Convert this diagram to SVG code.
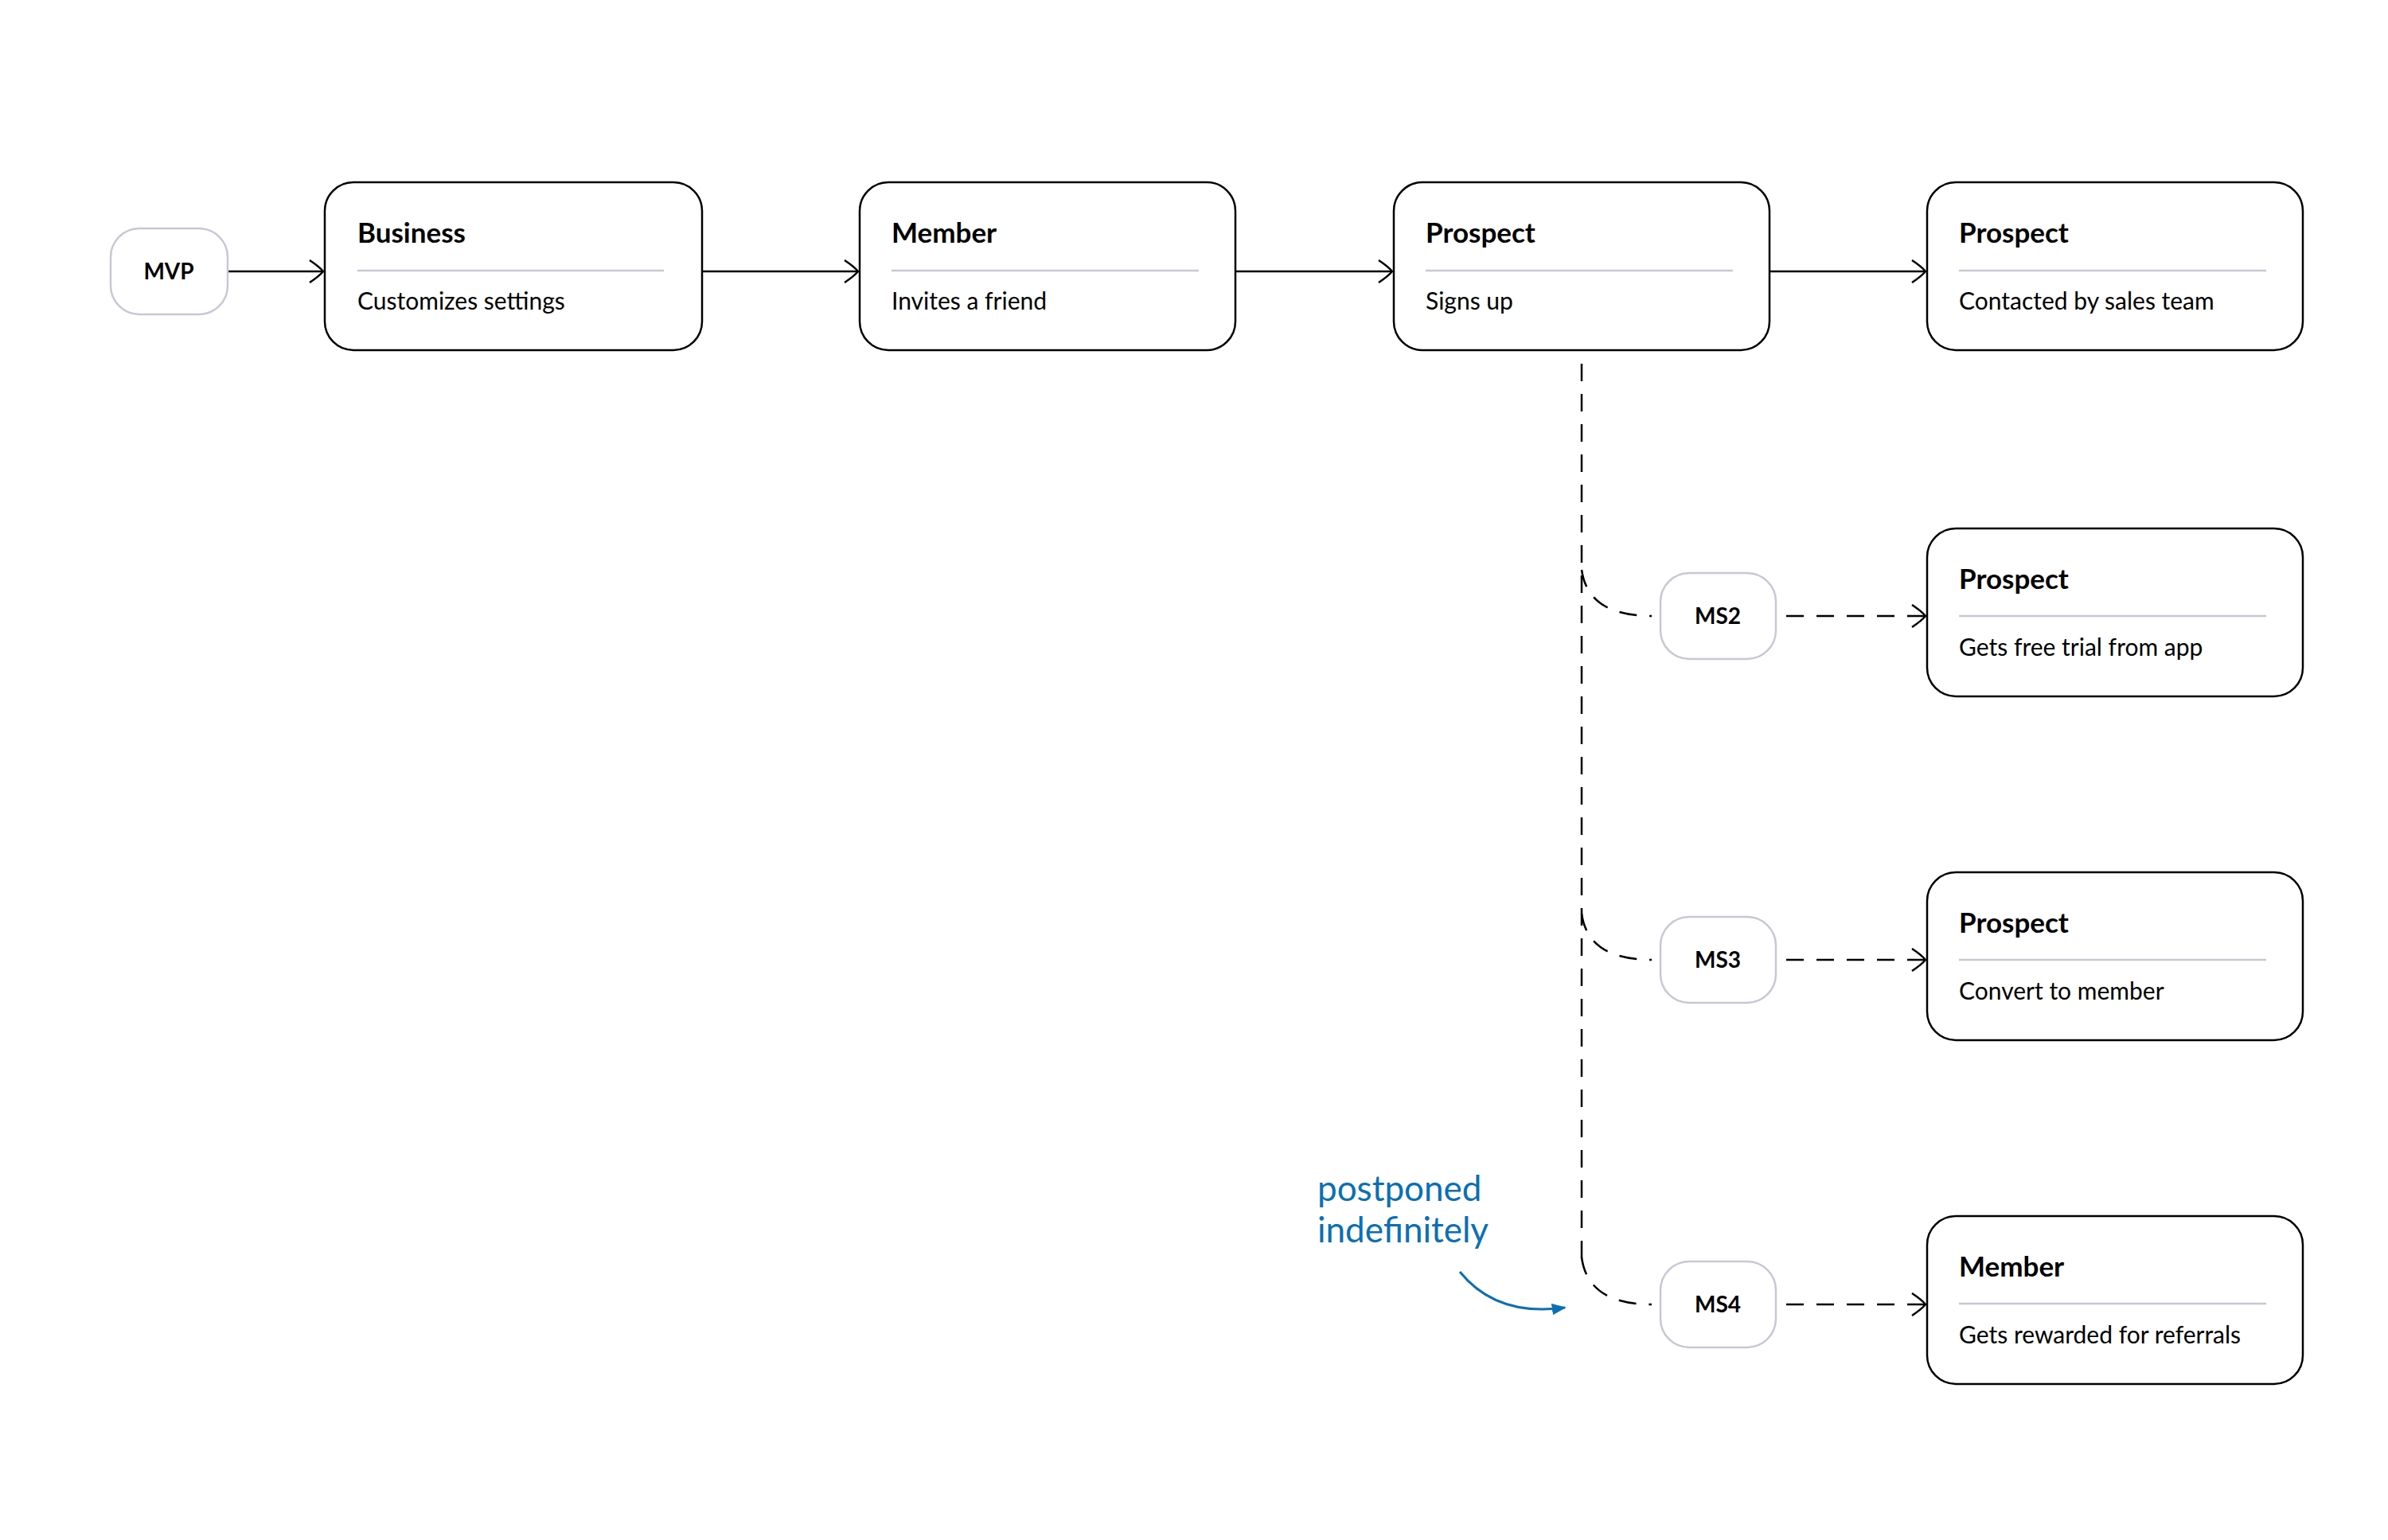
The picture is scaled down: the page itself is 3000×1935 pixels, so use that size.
<svg xmlns="http://www.w3.org/2000/svg" width="3000" height="1935" viewBox="0 0 3000 1935">
<style>
.card{fill:#fff;stroke:#000;stroke-width:2.5}
.pill{fill:#fff;stroke:#c5c9d3;stroke-width:2.5}
.sep{stroke:#c5c9d3;stroke-width:2.5}
.t{font-family:Lato,"Liberation Sans",sans-serif;font-weight:bold;font-size:35px;fill:#000}
.s{font-family:Lato,"Liberation Sans",sans-serif;font-size:30px;fill:#000}
.m{font-family:Lato,"Liberation Sans",sans-serif;font-weight:bold;font-size:28px;fill:#000;text-anchor:middle}
.c{fill:none;stroke:#000;stroke-width:2.5}
.d{fill:none;stroke:#000;stroke-width:2.5;stroke-dasharray:22 16}
.a{font-family:Lato,"Liberation Sans",sans-serif;font-size:44px;fill:#0a6fb3}
</style>
<defs>
<marker id="ah" viewBox="0 0 20 30" refX="19" refY="15" markerWidth="20" markerHeight="30" markerUnits="userSpaceOnUse" orient="auto"><path d="M2 1 Q14 9 19 15 Q14 21 2 29" fill="none" stroke="#000" stroke-width="2.5"/></marker>
<marker id="bh" viewBox="0 0 20 20" refX="18" refY="10" markerWidth="18" markerHeight="18" markerUnits="userSpaceOnUse" orient="auto"><path d="M0 2 L20 10 L0 18 Z" fill="#0a6fb3"/></marker>
</defs>
<rect width="3000" height="1935" fill="#fff"/>
<g id="connectors">
<path class="c" d="M286 341 H406" marker-end="url(#ah)"/>
<path class="c" d="M882 341 H1078" marker-end="url(#ah)"/>
<path class="c" d="M1552 341 H1749" marker-end="url(#ah)"/>
<path class="c" d="M2223 341 H2419" marker-end="url(#ah)"/>
<path class="d" d="M1987 457 V1587"/>
<path class="d" d="M1987 716 Q1995 774 2075 774"/>
<path class="d" d="M1987 1148 Q1995 1206 2075 1206"/>
<path class="d" d="M1987 1580 Q1995 1639 2075 1639"/>
<path class="d" d="M2244 774 H2419" marker-end="url(#ah)"/>
<path class="d" d="M2244 1206 H2419" marker-end="url(#ah)"/>
<path class="d" d="M2244 1639 H2419" marker-end="url(#ah)"/>
<path d="M1834 1598 Q1880 1655 1966 1643" fill="none" stroke="#0a6fb3" stroke-width="3" marker-end="url(#bh)"/>
</g>
<g id="mvp"><rect class="pill" x="139" y="287" width="147" height="108" rx="36"/><text class="m" x="212" y="351">MVP</text></g>
<g id="business"><rect class="card" x="408" y="229" width="474" height="211" rx="36"/><text class="t" x="449" y="305">Business</text><line class="sep" x1="449" y1="340" x2="834" y2="340"/><text class="s" x="449" y="389">Customizes settings</text></g>
<g id="member1"><rect class="card" x="1080" y="229" width="472" height="211" rx="36"/><text class="t" x="1120" y="305">Member</text><line class="sep" x1="1120" y1="340" x2="1506" y2="340"/><text class="s" x="1120" y="389">Invites a friend</text></g>
<g id="prospect1"><rect class="card" x="1751" y="229" width="472" height="211" rx="36"/><text class="t" x="1791" y="305">Prospect</text><line class="sep" x1="1791" y1="340" x2="2177" y2="340"/><text class="s" x="1791" y="389">Signs up</text></g>
<g id="prospect2"><rect class="card" x="2421" y="229" width="472" height="211" rx="36"/><text class="t" x="2461" y="305">Prospect</text><line class="sep" x1="2461" y1="340" x2="2847" y2="340"/><text class="s" x="2461" y="389">Contacted by sales team</text></g>
<g id="ms2"><rect class="pill" x="2086" y="720" width="145" height="108" rx="36"/><text class="m" x="2158" y="784">MS2</text></g>
<g id="prospect3"><rect class="card" x="2421" y="664" width="472" height="211" rx="36"/><text class="t" x="2461" y="740">Prospect</text><line class="sep" x1="2461" y1="774" x2="2847" y2="774"/><text class="s" x="2461" y="824">Gets free trial from app</text></g>
<g id="ms3"><rect class="pill" x="2086" y="1152" width="145" height="108" rx="36"/><text class="m" x="2158" y="1216">MS3</text></g>
<g id="prospect4"><rect class="card" x="2421" y="1096" width="472" height="211" rx="36"/><text class="t" x="2461" y="1172">Prospect</text><line class="sep" x1="2461" y1="1206" x2="2847" y2="1206"/><text class="s" x="2461" y="1256">Convert to member</text></g>
<g id="ms4"><rect class="pill" x="2086" y="1585" width="145" height="108" rx="36"/><text class="m" x="2158" y="1649">MS4</text></g>
<g id="member2"><rect class="card" x="2421" y="1528" width="472" height="211" rx="36"/><text class="t" x="2461" y="1604">Member</text><line class="sep" x1="2461" y1="1638" x2="2847" y2="1638"/><text class="s" x="2461" y="1688">Gets rewarded for referrals</text></g>
<g id="note"><text class="a" x="1655" y="1509">postponed</text><text class="a" x="1655" y="1561">indefinitely</text></g>
</svg>
